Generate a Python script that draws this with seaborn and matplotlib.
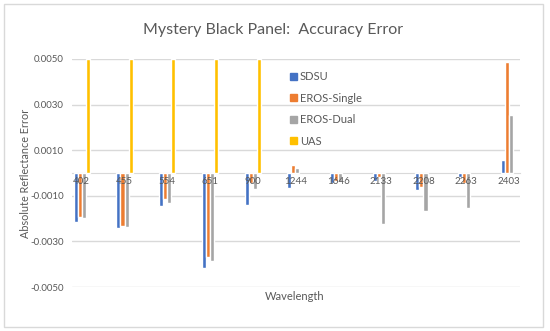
import matplotlib
matplotlib.use("Agg")
import matplotlib.pyplot as plt
import matplotlib.patches as mpatches
import numpy as np
import pandas as pd
import seaborn as sns

# =========================================
# DATA
# =========================================

wavelengths = ["402", "455", "554", "651", "900", "1244",
               "1646", "2133", "2208", "2263", "2403"]

sdsu = [-0.00215, -0.00242, -0.00145, -0.00417, -0.00139, -0.00066,
        -0.00044, -0.00035, -0.00073, -0.00018, 0.00059]
eros_single = [-0.00193, -0.00231, -0.00116, -0.00370, -0.00044, 0.00037,
               -0.00035, -0.00018, -0.00060, -0.00044, 0.00488]
eros_dual = [-0.00196, -0.00239, -0.00130, -0.00385, -0.00069, 0.00024,
             -0.00040, -0.00223, -0.00167, -0.00154, 0.00254]
# UAS bars run off the top of the axis, drawn to the axis limit
uas = [0.0050, 0.0050, 0.0050, 0.0050, 0.0050, np.nan,
       np.nan, np.nan, np.nan, np.nan, np.nan]

series_names = ["SDSU", "EROS-Single", "EROS-Dual", "UAS"]
series_colors = ["#4472C4", "#ED7D31", "#A5A5A5", "#FFC000"]

y_ticks = [-0.005, -0.003, -0.001, 0.001, 0.003, 0.005]

# =========================================
# LONG TABLE FOR SEABORN
# =========================================

rows = []
for name, values in zip(series_names, [sdsu, eros_single, eros_dual, uas]):
    for wl, v in zip(wavelengths, values):
        rows.append({"Wavelength": wl, "series": name, "error": v})
df = pd.DataFrame(rows)

# =========================================
# PLOT
# =========================================

sns.set_style("white")
plt.rcParams["font.family"] = ["Lato", "DejaVu Sans"]
text_color = "#595959"
grid_color = "#D9D9D9"

fig = plt.figure(figsize=(5.5, 3.31), dpi=100)
ax = fig.add_axes([0.1309, 0.1329, 0.8146, 0.6889])

sns.barplot(
    data=df,
    x="Wavelength",
    y="error",
    hue="series",
    order=wavelengths,
    hue_order=series_names,
    palette=series_colors,
    width=0.38,
    gap=0,
    errorbar=None,
    saturation=1,
    legend=False,
    ax=ax,
)

ax.set_ylim(-0.005, 0.005)
ax.set_xlim(-0.23, 10.26)
ax.set_yticks(y_ticks)
ax.set_yticklabels([f"{t:.4f}" for t in y_ticks])
ax.yaxis.grid(True, color=grid_color, linewidth=1)
ax.set_axisbelow(True)
# category labels sit on top of the bars, as in the original
ax.xaxis.set_zorder(3)

for side in ["top", "right", "left"]:
    ax.spines[side].set_visible(False)
ax.spines["bottom"].set_position(("data", 0))
ax.spines["bottom"].set_color(grid_color)
ax.spines["bottom"].set_zorder(0.5)

ax.tick_params(axis="both", length=0, labelsize=7, labelcolor=text_color)
ax.tick_params(axis="x", pad=3)
ax.tick_params(axis="y", pad=6)

ax.set_xlabel("")
ax.set_ylabel("")
fig.text(0.046, 0.477, "Absolute Reflectance Error", fontsize=7.8,
         color=text_color, rotation=90, ha="center", va="center")
fig.text(0.536, 0.105, "Wavelength", fontsize=8, color=text_color,
         ha="center", va="center")

fig.text(0.497, 0.91, "Mystery Black Panel:  Accuracy Error", fontsize=11.5,
         color=text_color, ha="center", va="center")

handles = [mpatches.Patch(color=c, label=n)
           for n, c in zip(series_names, series_colors)]
ax.legend(handles=handles, loc="upper left",
          bbox_to_anchor=(0.527, 0.785), bbox_transform=fig.transFigure,
          frameon=False, fontsize=8, labelcolor=text_color,
          handlelength=0.6, handleheight=0.6, handletextpad=0.3,
          labelspacing=0.95, borderaxespad=0, borderpad=0)

# chart border
fig.patches.append(mpatches.Rectangle(
    (0.007, 0.012), 0.98, 0.976, transform=fig.transFigure,
    fill=False, edgecolor=grid_color, linewidth=1))

fig.savefig("out.png", dpi=100)
